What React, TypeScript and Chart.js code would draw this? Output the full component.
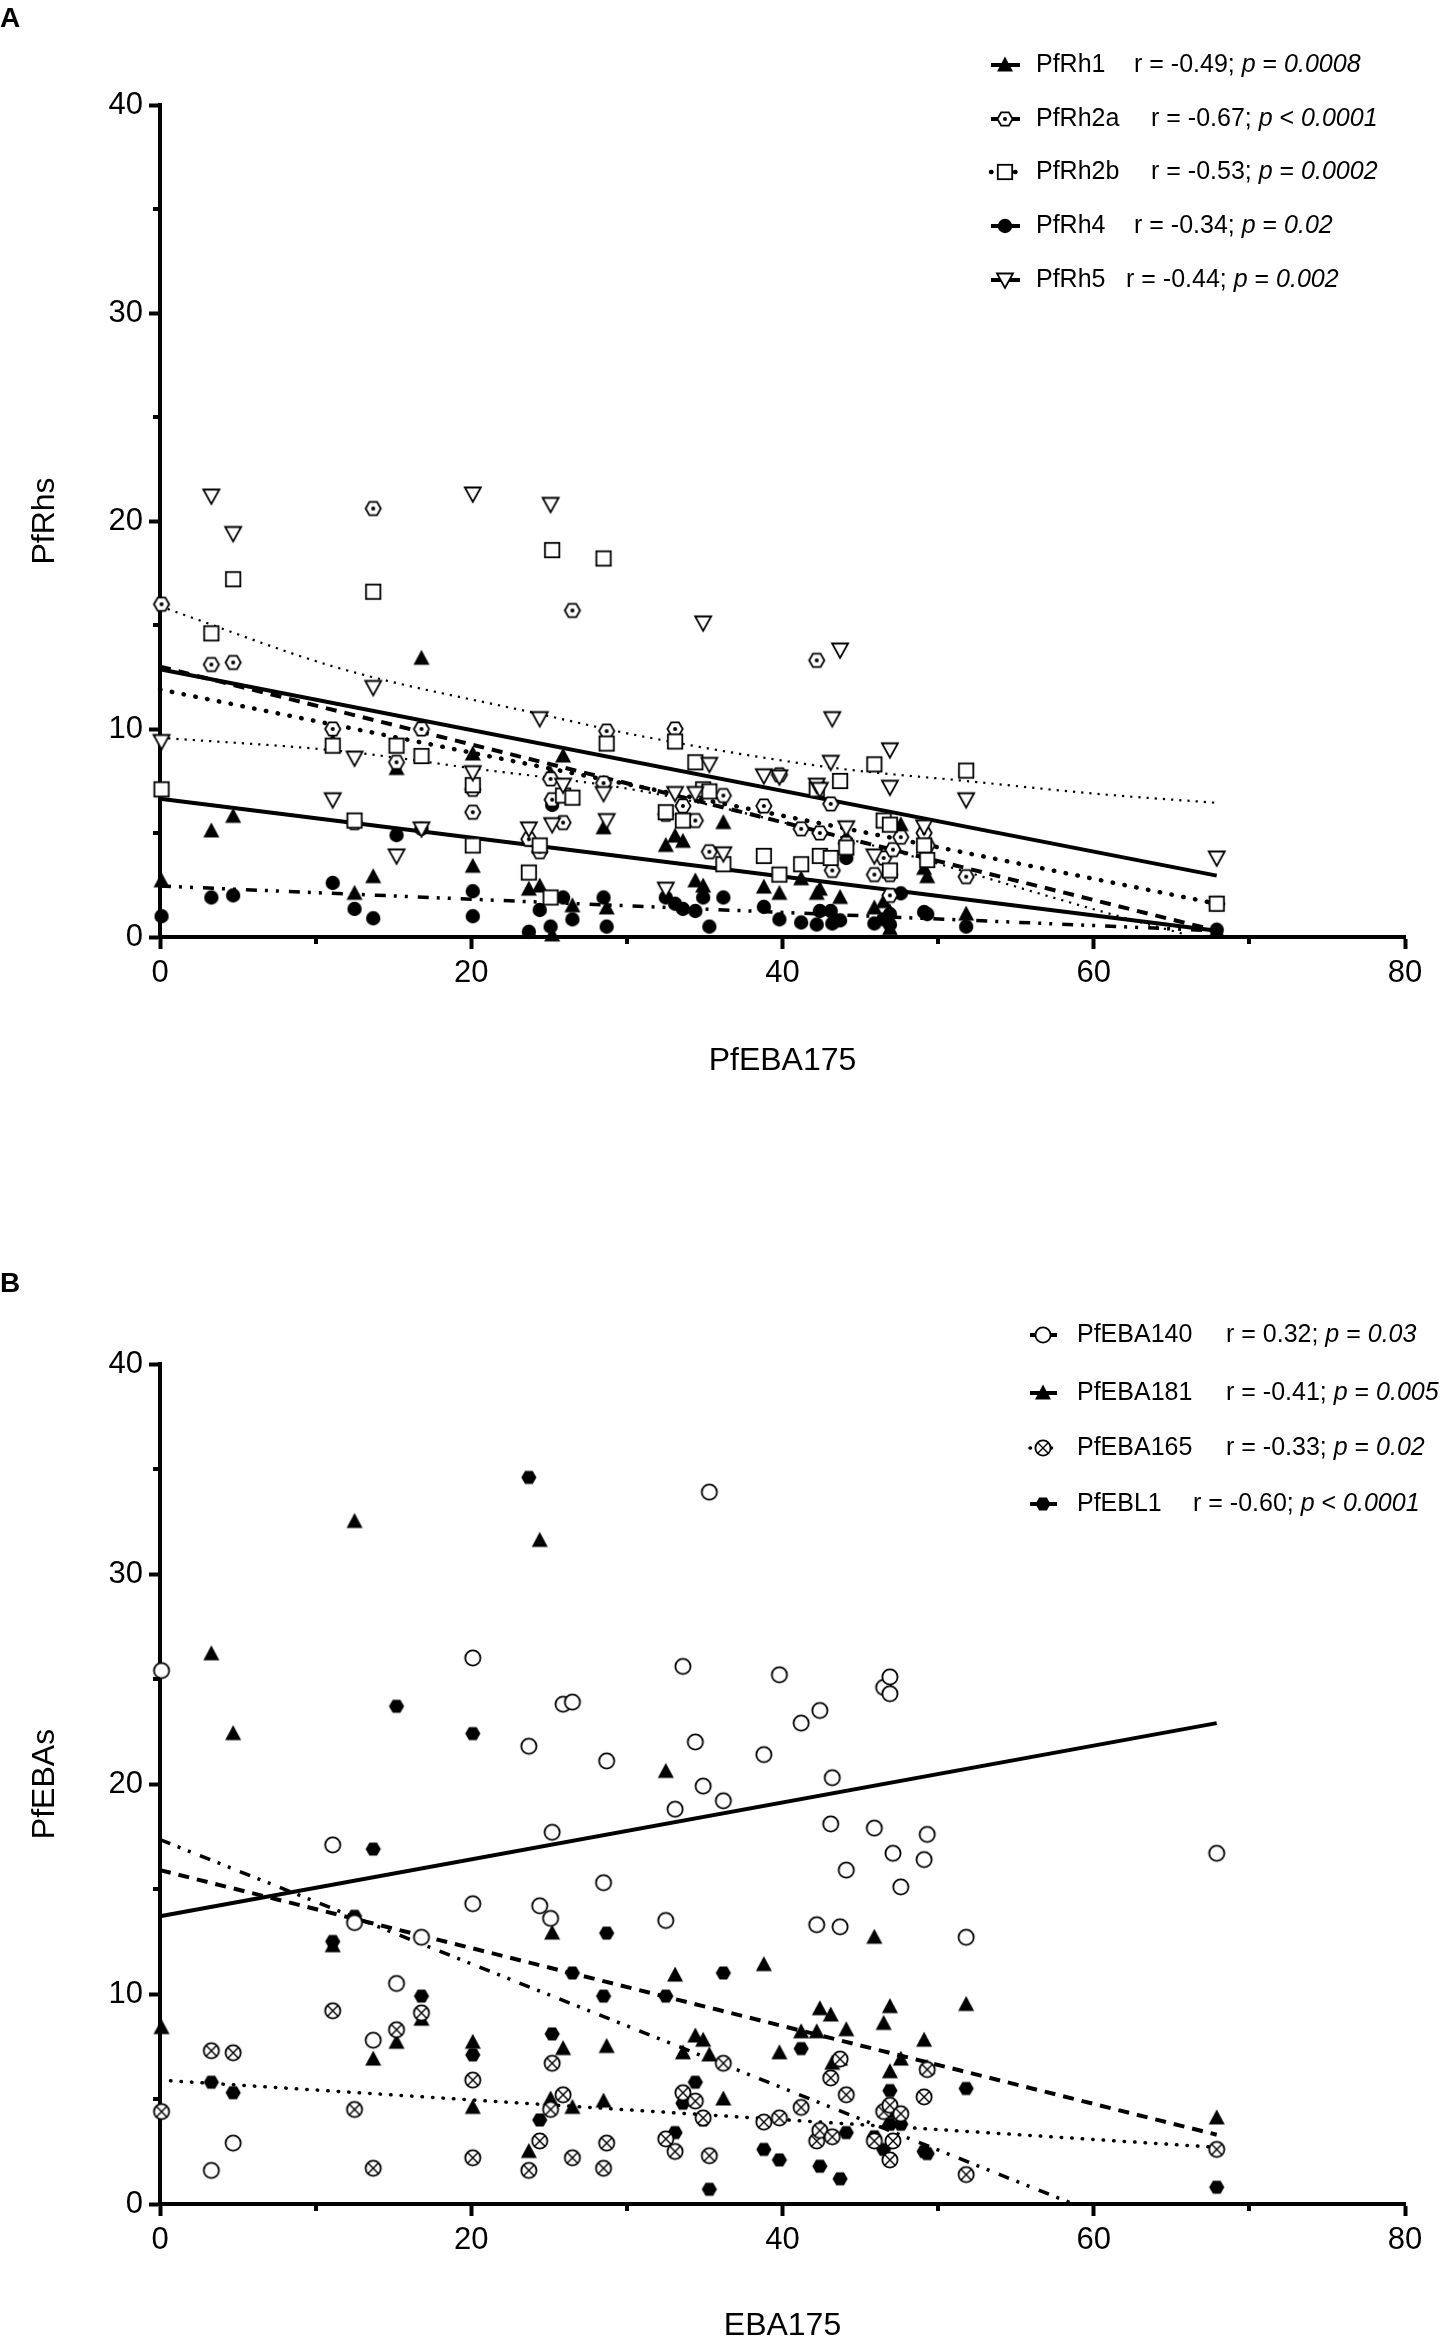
import React, { useEffect, useRef } from 'react';
import { Chart, registerables } from 'chart.js';

Chart.register(...registerables);

const FONT = '"Liberation Sans", Arial, Helvetica, sans-serif';

// EBA175 antibody level of each subject (shared x axis of both panels)
const subjectX = [0.1, 3.3, 4.7, 11.1, 12.5, 13.7, 15.2, 16.8, 20.1, 20.1, 23.7, 24.4, 25.1, 25.2, 25.9, 26.5, 28.5, 28.7, 32.5, 33.1, 33.6, 34.4, 34.9, 35.3, 36.2, 38.8, 39.8, 41.2, 42.2, 42.4, 43.1, 43.2, 43.7, 44.1, 45.9, 46.5, 46.9, 46.9, 47.1, 47.6, 49.1, 49.3, 51.8, 67.9];

// panel A : PfRhs
const rh1 = [2.7, 5.1, 5.8, 9.4, 2.1, 2.9, 8.1, 13.4, 8.8, 3.4, 2.3, 2.45, 7.85, 0.1, 8.7, 1.5, 5.25, 1.4, 4.4, 4.85, 4.6, 2.7, 2.45, null, 5.5, 2.4, 2.1, 2.8, 2.1, 2.3, null, null, 1.9, 4.8, 1.4, 1.7, 1.2, 0.4, null, 5.4, 3.3, 2.9, 1.1, 0.3];
const rh2a = [16.0, 13.1, 13.2, 10.0, 5.5, 20.6, 8.4, 10.0, 7.1, 6.0, 4.7, 4.1, 7.6, 6.6, 5.5, 15.7, 7.4, 9.9, 5.9, 10.0, 6.3, 5.6, null, 4.1, 6.8, 6.3, 7.8, 5.2, 13.3, 5.0, 6.4, 3.2, null, 4.5, 3.0, 3.8, 3.0, 2.0, 4.2, 4.8, 5.0, 4.4, 2.9, 1.6];
const rh2b = [7.1, 14.6, 17.2, 9.2, 5.6, 16.6, 9.2, 8.7, 7.3, 4.4, 3.1, 4.4, 1.9, 18.6, 6.8, 6.7, 18.2, 9.3, 6.0, 9.4, 5.6, 8.4, 7.1, 7.0, 3.5, 3.9, 3.0, 3.5, 7.1, 3.9, 3.8, null, 7.5, 4.3, 8.3, 5.6, 5.4, 3.2, null, null, 4.4, 3.7, 8.0, 1.6];
const rh4 = [1.0, 1.9, 2.0, 2.6, 1.35, 0.9, 4.9, 5.2, 2.2, 1.0, 0.25, 1.3, 0.5, 6.35, 1.9, 0.85, 1.9, 0.5, 1.9, 1.6, 1.35, 1.25, 1.9, 0.5, 1.9, 1.45, 0.85, 0.7, 0.6, 1.25, 1.25, 0.65, 0.8, 3.8, 0.65, 0.85, 0.6, 1.1, null, 2.1, 1.2, 1.1, 0.5, 0.35];
const rh5 = [9.4, 21.2, 19.4, 6.6, 8.6, 12.0, 3.9, 5.2, 21.3, 7.9, 5.2, 10.5, 20.8, 5.4, 7.3, null, 6.9, 5.6, 2.3, 6.9, null, 6.9, 15.1, 8.3, 4.0, 7.75, 7.7, null, 7.3, 7.1, 8.4, 10.5, 13.8, 5.25, 3.9, null, 9.0, 7.2, null, null, 5.3, null, 6.6, 3.8];

// panel A : fitted lines / curves
const fitEnds = [0, 67.9];
const fitRh1 = [6.65, 0.3];
const fitRh2a = [13.0, 0.3];
const fitRh2b = [11.9, 1.6];
const fitRh4 = [2.45, 0.3];
const fitRh5 = [12.87, 2.95];
const curveUpX = [0, 11.4, 24.5, 30.9, 43.2, 51.8, 60.4, 67.9];
const curveUpY = [15.9, 12.95, 10.7, 9.66, 8.14, 7.5, 6.87, 6.45];
const curveLowX = [0, 11.6, 20.2, 30.9, 44.3, 60.4, 66];
const curveLowY = [9.58, 8.94, 8.1, 7.02, 4.7, 1.25, 0.1];

// panel B : PfEBAs
const eba140 = [25.4, 1.6, 2.9, 17.1, 13.4, 7.8, 10.5, 12.7, 26.0, 14.3, 21.8, 14.2, 13.6, 17.7, 23.8, 23.9, 15.3, 21.1, 13.5, 18.8, 25.6, 22.0, 19.9, 33.9, 19.2, 21.4, 25.2, 22.9, 13.3, 23.5, 18.1, 20.3, 13.2, 15.9, 17.9, 24.6, 25.1, 24.3, 16.7, 15.1, 16.4, 17.6, 12.7, 16.7];
const eba181 = [8.4, 26.2, 22.4, 12.3, 32.5, 6.9, 7.7, 8.8, 7.7, 4.6, 2.5, 31.6, 5.0, 12.9, 7.4, 4.6, 4.9, 7.5, 20.6, 10.9, 7.2, 8.0, 7.8, 7.1, 5.0, 11.4, 7.2, 8.2, 8.2, 9.3, 9.0, 6.7, 6.9, 8.3, 12.7, 8.6, 9.4, 6.3, 4.4, 6.9, 7.8, 6.5, 9.5, 4.1];
const eba165 = [4.4, 7.3, 7.2, 9.2, 4.5, 1.7, 8.3, 9.1, 5.9, 2.2, 1.6, 3.0, 4.5, 6.7, 5.2, 2.2, 1.7, 2.9, 3.1, 2.5, 5.3, 4.9, 4.1, 2.3, 6.7, 3.9, 4.1, 4.6, 3.0, 3.5, 6.0, 3.2, 6.9, 5.2, 3.0, 4.4, 4.7, 2.1, 3.0, 4.3, 5.1, 6.4, 1.4, 2.6];
const ebl1 = [null, 5.8, 5.3, 12.5, 13.7, 16.9, 23.7, 9.9, 22.4, 7.1, 34.6, 4.0, null, 8.1, null, 11.0, 9.9, 12.9, 9.9, 3.4, 4.8, 5.8, 4.0, 0.7, 11.0, 2.6, 2.1, 7.4, null, 1.8, null, null, 1.2, 3.4, 3.2, 2.6, 5.4, 3.8, null, 3.8, 2.5, 2.4, 5.5, 0.8];

// panel B : fitted lines
const fit140 = [13.7, 22.9];
const fit181 = [15.9, 3.3];
const fit165 = [5.9, 2.7];
const fitEbl1X = [0, 58.7];
const fitEbl1Y = [17.35, 0];

// legend texts
const legendA = [
  { name: 'PfRh1', r: '-0.49', rel: '=', p: '0.0008' },
  { name: 'PfRh2a', r: '-0.67', rel: '<', p: '0.0001' },
  { name: 'PfRh2b', r: '-0.53', rel: '=', p: '0.0002' },
  { name: 'PfRh4', r: '-0.34', rel: '=', p: '0.02' },
  { name: 'PfRh5', r: '-0.44', rel: '=', p: '0.002' },
];
const legendB = [
  { name: 'PfEBA140', r: '0.32', rel: '=', p: '0.03' },
  { name: 'PfEBA181', r: '-0.41', rel: '=', p: '0.005' },
  { name: 'PfEBA165', r: '-0.33', rel: '=', p: '0.02' },
  { name: 'PfEBL1', r: '-0.60', rel: '<', p: '0.0001' },
];

type Style = { width: number; dash: number[]; cap: CanvasLineCap };
const SOLID: Style = { width: 4, dash: [], cap: 'butt' };
const DASHED: Style = { width: 4, dash: [11, 8], cap: 'butt' };
const BOLD_DOTS: Style = { width: 4.5, dash: [0.5, 11.5], cap: 'round' };
const DASH_DOT_DOT: Style = { width: 3.5, dash: [11, 8, 3, 8, 3, 10], cap: 'butt' };
const FINE_DOTS: Style = { width: 2.2, dash: [2.2, 6], cap: 'butt' };
const B_DOTS: Style = { width: 3.5, dash: [0.5, 10], cap: 'round' };

function makeMarker(kind: string): HTMLCanvasElement {
  const s = 24;
  const c = document.createElement('canvas');
  c.width = s;
  c.height = s;
  const g = c.getContext('2d')!;
  const m = s / 2;
  g.lineWidth = 1.8;
  g.strokeStyle = '#000';
  g.fillStyle = '#000';
  const poly = (pts: number[][]) => {
    g.beginPath();
    pts.forEach(([x, y], i) => (i ? g.lineTo(m + x, m + y) : g.moveTo(m + x, m + y)));
    g.closePath();
  };
  const hex = [[-7.6, 0], [-3.8, -6.6], [3.8, -6.6], [7.6, 0], [3.8, 6.6], [-3.8, 6.6]];
  if (kind === 'triUp') {
    poly([[0, -8.5], [8, 6.5], [-8, 6.5]]);
    g.fill();
  } else if (kind === 'triDown') {
    poly([[-8, -6.5], [8, -6.5], [0, 8]]);
    g.fillStyle = '#fff';
    g.fill();
    g.stroke();
  } else if (kind === 'square') {
    g.fillStyle = '#fff';
    g.fillRect(m - 7.2, m - 7.2, 14.4, 14.4);
    g.strokeRect(m - 7.2, m - 7.2, 14.4, 14.4);
  } else if (kind === 'dot') {
    g.beginPath();
    g.arc(m, m, 7.2, 0, Math.PI * 2);
    g.fill();
  } else if (kind === 'hexDot') {
    poly(hex);
    g.fillStyle = '#fff';
    g.fill();
    g.stroke();
    g.fillStyle = '#000';
    g.beginPath();
    g.arc(m, m, 2, 0, Math.PI * 2);
    g.fill();
  } else if (kind === 'hexFill') {
    poly(hex);
    g.fill();
  } else if (kind === 'ring' || kind === 'ringX') {
    g.beginPath();
    g.arc(m, m, 7.6, 0, Math.PI * 2);
    g.fillStyle = '#fff';
    g.fill();
    g.stroke();
    if (kind === 'ringX') {
      const d = 5.2;
      g.beginPath();
      g.moveTo(m - d, m - d);
      g.lineTo(m + d, m + d);
      g.moveTo(m + d, m - d);
      g.lineTo(m - d, m + d);
      g.lineWidth = 1.4;
      g.stroke();
    }
  }
  return c;
}

function pointsOf(values: (number | null)[]) {
  const out: { x: number; y: number }[] = [];
  values.forEach((v, i) => {
    if (v !== null) out.push({ x: subjectX[i], y: v });
  });
  return out;
}

function lineSet(xs: number[], ys: number[], st: Style, curved = false) {
  return {
    data: xs.map((x, i) => ({ x, y: ys[i] })),
    showLine: true,
    borderColor: '#000',
    borderWidth: st.width,
    borderDash: st.dash,
    borderCapStyle: st.cap,
    pointRadius: 0,
    fill: false,
    cubicInterpolationMode: curved ? 'monotone' : 'default',
    tension: curved ? 0.4 : 0,
    order: 10,
    clip: false,
  };
}

function pointSet(values: (number | null)[], marker: HTMLCanvasElement) {
  return {
    data: pointsOf(values),
    showLine: false,
    pointStyle: marker,
    pointRadius: 8,
    borderColor: '#000',
    backgroundColor: '#000',
    order: 0,
    clip: false,
  };
}

type LegendItem = { name: string; r: string; rel: string; p: string; rx: number; marker: HTMLCanvasElement; style: Style };

type Decor = {
  letter: string;
  letterY: number;
  xTitle: string;
  xTitleY: number;
  yTitle: string;
  legend: LegendItem[];
  rows: number[];
  lineX0: number;
  lineX1: number;
  markerX: number;
  textX: number;
};

function makeDecor(cfg: Decor) {
  return {
    id: 'decor',
    afterDraw(chart: any) {
      const { ctx, chartArea, scales } = chart;
      ctx.save();
      // minor ticks
      ctx.strokeStyle = '#000';
      ctx.lineWidth = 4;
      ctx.beginPath();
      [10, 30, 50, 70].forEach((v) => {
        const px = Math.round(scales.x.getPixelForValue(v));
        ctx.moveTo(px, chartArea.bottom);
        ctx.lineTo(px, chartArea.bottom + 7);
      });
      [5, 15, 25, 35].forEach((v) => {
        const py = Math.round(scales.y.getPixelForValue(v));
        ctx.moveTo(chartArea.left - 7, py);
        ctx.lineTo(chartArea.left, py);
      });
      ctx.stroke();

      ctx.fillStyle = '#000';
      // panel letter
      ctx.font = `bold 28px ${FONT}`;
      ctx.textAlign = 'left';
      ctx.textBaseline = 'top';
      ctx.fillText(cfg.letter, 0, cfg.letterY);

      // axis titles
      ctx.font = `32px ${FONT}`;
      ctx.textAlign = 'center';
      ctx.textBaseline = 'middle';
      ctx.fillText(cfg.xTitle, (chartArea.left + chartArea.right) / 2, cfg.xTitleY);
      ctx.save();
      ctx.translate(45, (chartArea.top + chartArea.bottom) / 2);
      ctx.rotate(-Math.PI / 2);
      ctx.fillText(cfg.yTitle, 0, 0);
      ctx.restore();

      // legend
      cfg.legend.forEach((e, i) => {
        const y = cfg.rows[i];
        ctx.save();
        ctx.lineWidth = e.style.width;
        ctx.setLineDash(e.style.dash);
        ctx.lineCap = e.style.cap;
        ctx.beginPath();
        ctx.moveTo(cfg.lineX0, y);
        ctx.lineTo(cfg.lineX1, y);
        ctx.stroke();
        ctx.restore();
        ctx.drawImage(e.marker, cfg.markerX - e.marker.width / 2, y - e.marker.height / 2);
        ctx.textAlign = 'left';
        ctx.textBaseline = 'middle';
        ctx.font = `25px ${FONT}`;
        ctx.fillText(e.name, cfg.textX, y);
        let x = e.rx;
        const parts: [string, boolean][] = [[`r = ${e.r}; `, false], ['p', true], [` ${e.rel} `, false], [e.p, true]];
        parts.forEach(([t, it]) => {
          ctx.font = `${it ? 'italic ' : ''}25px ${FONT}`;
          ctx.fillText(t, x, y);
          x += ctx.measureText(t).width;
        });
      });
      ctx.restore();
    },
  };
}

function scalesCfg() {
  const tickFont = { family: FONT, size: 31 };
  return {
    x: {
      type: 'linear',
      min: 0,
      max: 80,
      ticks: { stepSize: 20, font: tickFont, color: '#000', padding: 6 },
      grid: { drawOnChartArea: false, drawTicks: true, tickLength: 12, tickWidth: 4, tickColor: '#000' },
      border: { display: true, width: 4, color: '#000' },
      afterFit: (s: any) => {
        s.height = 100;
      },
    },
    y: {
      type: 'linear',
      min: 0,
      max: 40,
      ticks: { stepSize: 10, font: tickFont, color: '#000', padding: 6 },
      grid: { drawOnChartArea: false, drawTicks: true, tickLength: 11, tickWidth: 4, tickColor: '#000' },
      border: { display: true, width: 4, color: '#000' },
      afterFit: (s: any) => {
        s.width = 160;
      },
    },
  };
}

export default function App() {
  const refA = useRef<HTMLCanvasElement | null>(null);
  const refB = useRef<HTMLCanvasElement | null>(null);

  useEffect(() => {
    document.body.style.margin = '0';
    const a = refA.current;
    const b = refB.current;
    if (!a || !b) return;

    const mk = {
      triUp: makeMarker('triUp'),
      triDown: makeMarker('triDown'),
      square: makeMarker('square'),
      dot: makeMarker('dot'),
      hexDot: makeMarker('hexDot'),
      hexFill: makeMarker('hexFill'),
      ring: makeMarker('ring'),
      ringX: makeMarker('ringX'),
    };

    const chartA = new Chart(a, {
      type: 'scatter',
      data: {
        datasets: [
          lineSet(curveUpX, curveUpY, FINE_DOTS, true),
          lineSet(curveLowX, curveLowY, FINE_DOTS, true),
          lineSet(fitEnds, fitRh5, SOLID),
          lineSet(fitEnds, fitRh1, SOLID),
          lineSet(fitEnds, fitRh2a, DASHED),
          lineSet(fitEnds, fitRh2b, BOLD_DOTS),
          lineSet(fitEnds, fitRh4, DASH_DOT_DOT),
          pointSet(rh5, mk.triDown),
          pointSet(rh2b, mk.square),
          pointSet(rh2a, mk.hexDot),
          pointSet(rh1, mk.triUp),
          pointSet(rh4, mk.dot),
        ] as any,
      },
      options: {
        animation: false,
        responsive: false,
        layout: { padding: { left: 0, right: 37, top: 105, bottom: 133 } },
        plugins: { legend: { display: false }, tooltip: { enabled: false } },
        scales: scalesCfg() as any,
      },
      plugins: [
        makeDecor({
          letter: 'A',
          letterY: 5,
          xTitle: 'PfEBA175',
          xTitleY: 1061,
          yTitle: 'PfRhs',
          rows: [65, 119, 172, 226, 280],
          lineX0: 991,
          lineX1: 1020,
          markerX: 1005,
          textX: 1036,
          legend: [
            { ...legendA[0], rx: 1134, marker: mk.triUp, style: SOLID },
            { ...legendA[1], rx: 1151, marker: mk.hexDot, style: DASHED },
            { ...legendA[2], rx: 1151, marker: mk.square, style: BOLD_DOTS },
            { ...legendA[3], rx: 1134, marker: mk.dot, style: DASHED },
            { ...legendA[4], rx: 1126, marker: mk.triDown, style: SOLID },
          ],
        }),
      ],
    });

    const chartB = new Chart(b, {
      type: 'scatter',
      data: {
        datasets: [
          lineSet(fitEnds, fit140, SOLID),
          lineSet(fitEnds, fit181, DASHED),
          lineSet(fitEnds, fit165, B_DOTS),
          lineSet(fitEbl1X, fitEbl1Y, DASH_DOT_DOT),
          pointSet(eba140, mk.ring),
          pointSet(eba165, mk.ringX),
          pointSet(eba181, mk.triUp),
          pointSet(ebl1, mk.hexFill),
        ] as any,
      },
      options: {
        animation: false,
        responsive: false,
        layout: { padding: { left: 0, right: 37, top: 194, bottom: 38 } },
        plugins: { legend: { display: false }, tooltip: { enabled: false } },
        scales: scalesCfg() as any,
      },
      plugins: [
        makeDecor({
          letter: 'B',
          letterY: 100,
          xTitle: 'EBA175',
          xTitleY: 1156,
          yTitle: 'PfEBAs',
          rows: [165, 223, 278, 334],
          lineX0: 1030,
          lineX1: 1057,
          markerX: 1043,
          textX: 1077,
          legend: [
            { ...legendB[0], rx: 1226, marker: mk.ring, style: SOLID },
            { ...legendB[1], rx: 1226, marker: mk.triUp, style: SOLID },
            { ...legendB[2], rx: 1226, marker: mk.ringX, style: B_DOTS },
            { ...legendB[3], rx: 1193, marker: mk.hexFill, style: SOLID },
          ],
        }),
      ],
    });

    return () => {
      chartA.destroy();
      chartB.destroy();
    };
  }, []);

  return (
    <div style={{ position: 'relative', width: 1442, height: 2342, background: '#fff' }}>
      <canvas ref={refA} width={1442} height={1170} style={{ position: 'absolute', left: 0, top: 0, width: 1442, height: 1170 }} />
      <canvas ref={refB} width={1442} height={1172} style={{ position: 'absolute', left: 0, top: 1170, width: 1442, height: 1172 }} />
    </div>
  );
}
